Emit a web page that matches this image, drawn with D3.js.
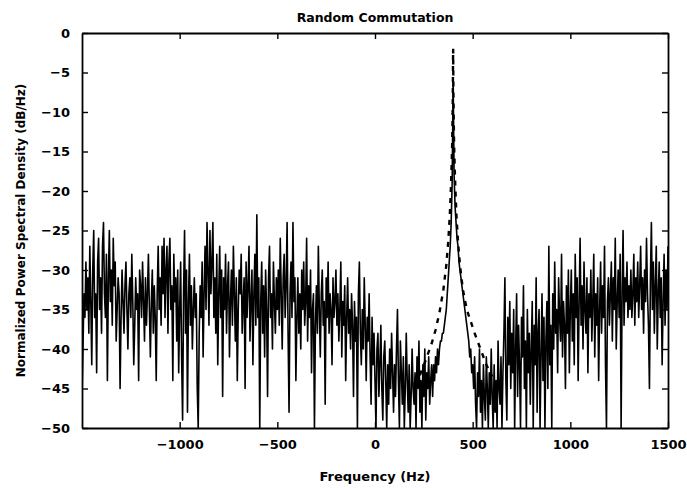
<!DOCTYPE html>
<html>
<head>
  <title>Random Commutation</title>
  <style>
    body { margin: 0; background: #fff; }
    svg { display: block; background: #fff; }
    text { font-family: "DejaVu Sans", sans-serif; font-weight: bold; fill: #000; }
    .psd { fill: none; stroke: #000; stroke-width: 1.6px; stroke-linejoin: round; }
    .model { fill: none; stroke: #000; stroke-width: 2.4px; stroke-dasharray: 5,6; }
  </style>
</head>
<body>
  <svg width="687" height="488"></svg>

  <script src="https://d3js.org/d3.v7.min.js"></script>
  <script>
    // Ejes
    const xTicks = [-1000, -500, 0, 500, 1000, 1500];
    const yTicks = [0, -5, -10, -15, -20, -25, -30, -35, -40, -45, -50];

    // Espectro medido: un valor cada 5 Hz, de -1500 a 1500 Hz
    const freqStart = -1500;
    const freqStep = 5;
    const psd = [
      -46,-40,-33,-36,-29,-35,-31,-38,-27,-34,-42,-30,-25,-36,-33,-43,-29,-26,-35,-31,
      -38,-27,-24,-33,-36,-28,-44,-31,-25,-34,-30,-37,-26,-32,-29,-39,-35,-31,-33,-45,
      -36,-30,-34,-38,-32,-29,-35,-40,-33,-31,-36,-28,-34,-42,-37,-31,-35,-33,-44,-30,
      -32,-36,-29,-34,-39,-31,-37,-33,-28,-35,-41,-34,-30,-38,-32,-36,-44,-33,-27,-35,
      -31,-37,-27,-33,-26,-36,-30,-27,-38,-29,-26,-35,-32,-44,-28,-34,-31,-39,-30,-43,
      -35,-29,-41,-49,-33,-25,-38,-30,-48,-34,-28,-37,-32,-40,-35,-31,-36,-33,-45,-50,
      -38,-32,-36,-29,-41,-33,-27,-35,-24,-30,-37,-25,-33,-29,-24,-36,-31,-38,-28,-42,
      -33,-27,-36,-30,-46,-31,-35,-28,-38,-32,-29,-41,-34,-30,-37,-27,-33,-39,-31,-44,
      -35,-30,-33,-28,-38,-34,-31,-45,-29,-36,-32,-27,-39,-34,-30,-42,-33,-28,-37,-23,
      -36,-31,-50,-34,-29,-38,-32,-41,-30,-35,-46,-31,-27,-36,-33,-40,-29,-34,-38,-31,
      -35,-30,-37,-26,-33,-40,-31,-28,-36,-32,-24,-38,-48,-33,-29,-36,-24,-34,-31,-44,
      -36,-31,-38,-33,-40,-30,-35,-29,-37,-34,-26,-39,-32,-36,-30,-43,-35,-33,-50,-37,
      -32,-38,-27,-35,-41,-33,-30,-37,-34,-47,-31,-36,-29,-38,-33,-35,-42,-31,-36,-34,
      -30,-37,-33,-39,-35,-29,-41,-34,-37,-32,-44,-36,-31,-38,-35,-40,-33,-37,-46,-34,
      -39,-36,-50,-33,-29,-38,-42,-35,-40,-31,-37,-44,-36,-39,-33,-41,-47,-36,-42,-38,
      -44,-50,-40,-38,-46,-42,-37,-45,-49,-41,-39,-44,-50,-42,-47,-40,-45,-38,-43,-48,
      -42,-46,-40,-35,-44,-50,-39,-43,-47,-41,-50,-45,-38,-44,-48,-42,-50,-46,-40,-45,
      -47,-43,-50,-41,-45,-39,-48,-44,-50,-42,-46,-40,-49,-43,-45,-41,-47,-44,-42,-46,
      -42,-44,-41,-43,-40,-42,-40,-39,-39,-38,-38,-37,-36,-35,-33,-31,-29,-27,-24,-19,
      -6,-18,-22,-24,-26,-27,-29,-30,-31,-32,-33,-34,-35,-36,-37,-38,-39,-41,-40,-43,
      -42,-45,-41,-47,-50,-43,-46,-40,-48,-44,-50,-42,-46,-49,-41,-45,-50,-43,-47,-40,
      -46,-50,-42,-48,-44,-50,-39,-45,-47,-41,-50,-43,-38,-31,-44,-49,-36,-42,-34,-45,
      -38,-43,-35,-50,-40,-33,-46,-37,-42,-50,-36,-41,-32,-45,-39,-50,-35,-43,-38,-47,
      -40,-34,-50,-37,-42,-31,-48,-38,-35,-50,-41,-33,-44,-36,-50,-39,-34,-45,-27,-42,
      -37,-50,-33,-40,-29,-38,-35,-43,-31,-36,-39,-28,-41,-34,-37,-45,-32,-38,-30,-43,
      -35,-30,-39,-33,-42,-28,-36,-31,-44,-34,-26,-37,-32,-40,-29,-35,-38,-31,-43,-33,
      -36,-30,-39,-34,-28,-41,-33,-37,-31,-44,-35,-29,-38,-32,-36,-27,-42,-50,-34,-31,
      -37,-33,-29,-39,-31,-35,-26,-40,-34,-30,-36,-28,-50,-33,-25,-37,-31,-34,-29,-36,
      -32,-35,-30,-36,-33,-28,-37,-31,-34,-29,-36,-32,-27,-35,-31,-38,-30,-34,-26,-33,
      -37,-45,-31,-24,-35,-29,-38,-32,-27,-40,-33,-29,-36,-31,-42,-34,-28,-37,-30,-35,
      -27
    ];

    // Curva teórica (línea discontinua)
    const modelFreq = [200, 230, 260, 290, 310, 330, 350, 365, 375, 383, 388, 392, 395, 397, 398.5, 399.5, 400,
                       400.5, 401.5, 403, 405, 408, 412, 417, 425, 435, 450, 470, 490, 510, 540, 570, 600];
    const modelDb = [-44.5, -43.3, -41.4, -39.3, -37.6, -35.4, -32.5, -29.4, -26.4, -23.1, -20, -17, -14.2, -11, -7.5, -3.5, -2,
                     -3.5, -7.5, -11, -14.2, -17, -20, -23.1, -26.4, -29.4, -32.5, -35, -36.5, -38, -40, -42, -43.5];

    const margin = { top: 33, right: 19, bottom: 60, left: 82 };
    const width = 687, height = 488;

    const svg = d3.select("svg");

    const x = d3.scaleLinear().domain([-1500, 1500]).range([margin.left, width - margin.right]);
    const y = d3.scaleLinear().domain([-50, 0]).range([height - margin.bottom, margin.top]);

    svg.append("clipPath").attr("id", "plot")
      .append("rect")
      .attr("x", margin.left).attr("y", margin.top)
      .attr("width", width - margin.left - margin.right)
      .attr("height", height - margin.top - margin.bottom);

    const psdPts = psd.map((v, i) => [freqStart + i * freqStep, v]);
    const modelPts = modelFreq.map((f, i) => [f, modelDb[i]]);

    const line = d3.line().x(d => x(d[0])).y(d => y(d[1]));

    svg.append("path").datum(psdPts)
      .attr("class", "psd")
      .attr("clip-path", "url(#plot)")
      .attr("d", line);

    svg.append("path").datum(modelPts)
      .attr("class", "model")
      .attr("clip-path", "url(#plot)")
      .attr("d", line);

    // Ejes con marcas hacia adentro, en los cuatro lados
    const tk = 6;
    const styleAxis = g => {
      g.select(".domain").attr("stroke-width", 1.8);
      g.selectAll(".tick line").attr("stroke-width", 1.4);
    };

    svg.append("g")
      .attr("transform", `translate(0,${height - margin.bottom})`)
      .call(d3.axisBottom(x).tickValues(xTicks).tickSizeInner(-tk).tickSizeOuter(0).tickPadding(12)
        .tickFormat(d => d < 0 ? "\u2212" + Math.abs(d) : d))
      .call(styleAxis)
      .call(g => g.selectAll("text").attr("font-size", 13).attr("font-family", "DejaVu Sans").attr("font-weight", "bold"));

    svg.append("g")
      .attr("transform", `translate(0,${margin.top})`)
      .call(d3.axisTop(x).tickValues(xTicks).tickSizeInner(-tk).tickSizeOuter(0).tickFormat(""))
      .call(styleAxis);

    svg.append("g")
      .attr("transform", `translate(${margin.left},0)`)
      .call(d3.axisLeft(y).tickValues(yTicks).tickSizeInner(-tk).tickSizeOuter(0).tickPadding(12)
        .tickFormat(d => d < 0 ? "\u2212" + Math.abs(d) : d))
      .call(styleAxis)
      .call(g => g.selectAll("text").attr("font-size", 13).attr("font-family", "DejaVu Sans").attr("font-weight", "bold"));

    svg.append("g")
      .attr("transform", `translate(${width - margin.right},0)`)
      .call(d3.axisRight(y).tickValues(yTicks).tickSizeInner(-tk).tickSizeOuter(0).tickFormat(""))
      .call(styleAxis);

    // Textos
    svg.append("text")
      .attr("x", (margin.left + width - margin.right) / 2).attr("y", 22)
      .attr("text-anchor", "middle").attr("font-size", 12.5)
      .text("Random Commutation");

    svg.append("text")
      .attr("x", (margin.left + width - margin.right) / 2).attr("y", 481)
      .attr("text-anchor", "middle").attr("font-size", 13)
      .text("Frequency (Hz)");

    svg.append("text")
      .attr("transform", `translate(25,${(margin.top + height - margin.bottom) / 2}) rotate(-90)`)
      .attr("text-anchor", "middle").attr("font-size", 12)
      .text("Normalized Power Spectral Density (dB/Hz)");
  </script>
</body>
</html>
